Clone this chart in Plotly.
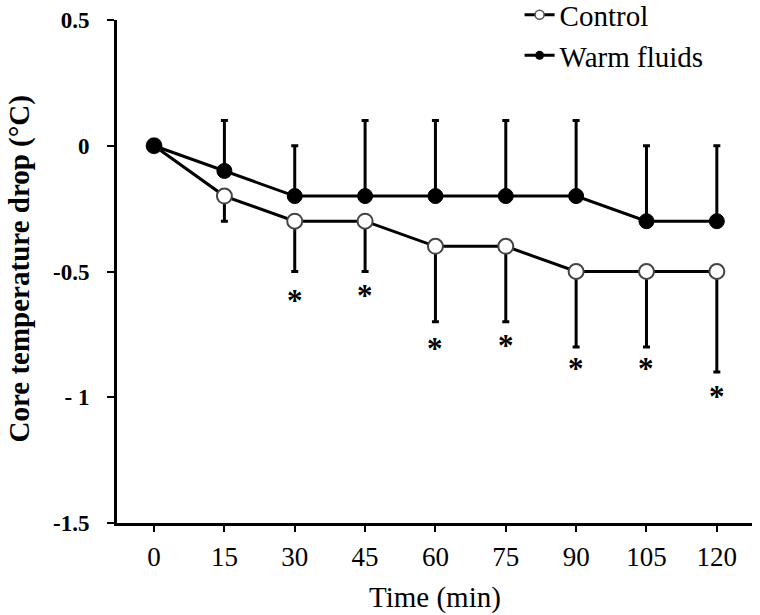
import plotly.graph_objects as go

# ---- data ----
time_min = [0, 15, 30, 45, 60, 75, 90, 105, 120]
tick_labels = ["0", "15", "30", "45", "60", "75", "90", "105", "120"]
control_mean = [0, -0.2, -0.3, -0.3, -0.4, -0.4, -0.5, -0.5, -0.5]
control_sd = [0, 0.1, 0.2, 0.2, 0.3, 0.3, 0.3, 0.3, 0.4]
warm_mean = [0, -0.1, -0.2, -0.2, -0.2, -0.2, -0.2, -0.3, -0.3]
warm_sd = [0, 0.2, 0.2, 0.3, 0.3, 0.3, 0.3, 0.3, 0.3]
sig_marks = ["", "", "*", "*", "*", "*", "*", "*", "*"]
sig_y = [None, None, -0.60, -0.58, -0.79, -0.78, -0.87, -0.87, -0.98]
y_ticks = [-1.5, -1.0, -0.5, 0, 0.5]
y_tick_text = ["-1.5", "- 1", "-0.5", "0", "0.5"]

SERIF = "Liberation Serif, Times New Roman, serif"

fig = go.Figure()

# Control (open circles, error bars downward)
fig.add_trace(go.Scatter(
    x=time_min, y=control_mean, mode="lines+markers", showlegend=False,
    line=dict(color="black", width=3),
    marker=dict(symbol="circle", size=15, color="white",
                line=dict(color="#444444", width=2)),
    error_y=dict(type="data", symmetric=False,
                 array=[0] * len(control_sd), arrayminus=control_sd,
                 color="black", thickness=3, width=3.5),
))

# Warm fluids (filled circles, error bars upward)
fig.add_trace(go.Scatter(
    x=time_min, y=warm_mean, mode="lines+markers", showlegend=False,
    line=dict(color="black", width=3),
    marker=dict(symbol="circle", size=15, color="black",
                line=dict(color="black", width=1)),
    error_y=dict(type="data", symmetric=False,
                 array=warm_sd, arrayminus=[0] * len(warm_sd),
                 color="black", thickness=3, width=3.5),
))

# legend-only entries (small markers as in reference)
fig.add_trace(go.Scatter(
    x=[None], y=[None], mode="lines+markers", name="Control",
    line=dict(color="black", width=3),
    marker=dict(symbol="circle", size=9, color="white",
                line=dict(color="#555555", width=1.5)),
))
fig.add_trace(go.Scatter(
    x=[None], y=[None], mode="lines+markers", name="Warm fluids",
    line=dict(color="black", width=3),
    marker=dict(symbol="circle", size=9, color="black"),
))

# significance asterisks
for xv, mark, yv in zip(time_min, sig_marks, sig_y):
    if mark:
        fig.add_annotation(x=xv, y=yv, text="<b>" + mark + "</b>", showarrow=False,
                           xanchor="center", yanchor="middle", yshift=-4,
                           font=dict(family=SERIF, size=31, color="black"))

# axis titles
fig.add_annotation(xref="paper", yref="paper", x=-0.153, y=0.5057,
                   text="<b>Core temperature drop (°C)</b>", textangle=-90,
                   showarrow=False, xanchor="center", yanchor="middle",
                   font=dict(family=SERIF, size=29, color="black"))
fig.add_annotation(xref="paper", yref="paper", x=0.5, y=-0.149,
                   text="Time (min)", showarrow=False,
                   xanchor="center", yanchor="middle",
                   font=dict(family=SERIF, size=29, color="black"))

fig.update_xaxes(
    range=[-7.9, 127.5], tickvals=time_min, ticktext=tick_labels,
    showline=True, linecolor="black", linewidth=3,
    ticks="outside", ticklen=6, tickwidth=2, tickcolor="black",
    showgrid=False, zeroline=False,
    tickfont=dict(family=SERIF, size=27, color="black"),
    ticklabelstandoff=2,
)
fig.update_yaxes(
    range=[-1.5, 0.5], tickvals=y_ticks, ticktext=y_tick_text,
    showline=True, linecolor="black", linewidth=3,
    ticks="outside", ticklen=7, tickwidth=2, tickcolor="black",
    showgrid=False, zeroline=False,
    tickfont=dict(family=SERIF, size=23, color="black", weight="bold"),
    ticklabelstandoff=13,
)

fig.update_layout(
    width=760, height=615,
    margin=dict(l=117, r=8, t=20, b=92, autoexpand=False),
    plot_bgcolor="white", paper_bgcolor="white",
    legend=dict(x=0.634, y=1.061, xanchor="left", yanchor="top",
                font=dict(family=SERIF, size=29, color="black"),
                bgcolor="rgba(0,0,0,0)", tracegroupgap=0),
    font=dict(family=SERIF, color="black"),
)

fig.write_html("out.html", config={"displayModeBar": False},
               post_script="document.body.style.margin='0';")
